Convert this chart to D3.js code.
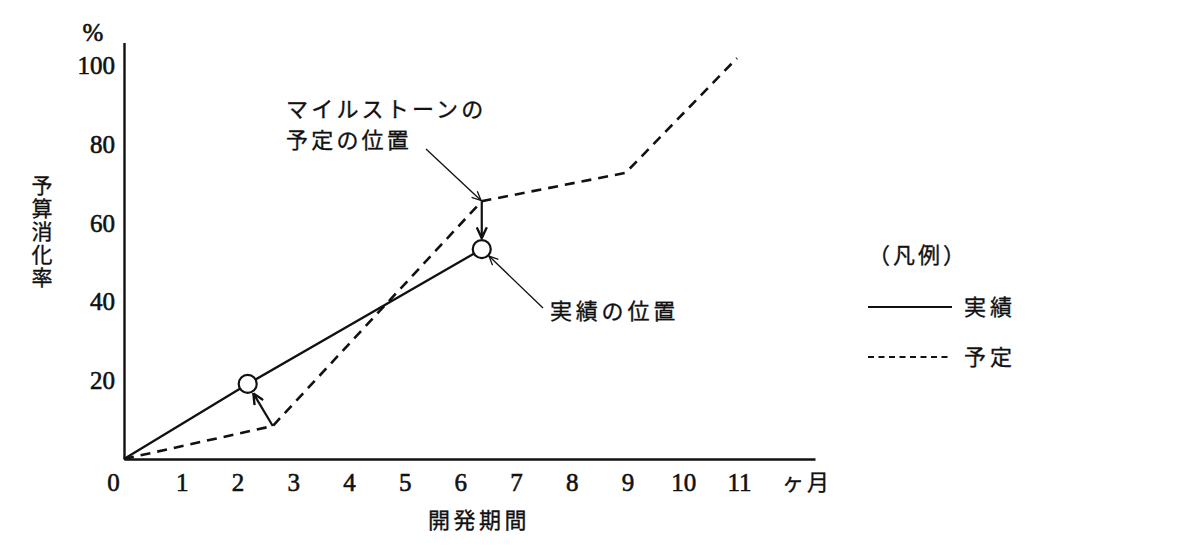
<!DOCTYPE html>
<html>
<head>
<meta charset="utf-8">
<script src="https://cdn.jsdelivr.net/npm/d3@7"></script>
<style>
  body { margin: 0; background: #fff; }
</style>
</head>
<body>
<svg id="drawing_region"></svg>
<script>
// tick labels
const month_ticks = [0, 1, 2, 3, 4, 5, 6, 7, 8, 9, 10, 11];
const rate_ticks = [20, 40, 60, 80, 100];

// 予定 (planned) series
const plan_months = [0, 2.67, 6.42, 9.0, 11.0];
const plan_rate = [0, 8.4, 65.6, 72.8, 102];

// 実績 (actual) series
const actual_months = [0, 2.22, 6.42];
const actual_rate = [0, 19.1, 53.4];

// milestone checks: index into both series
const milestone_idx = [1, 2];

const JP = '"Noto Sans CJK JP", "Noto Sans", sans-serif';
const NUM = '"Liberation Serif", "DejaVu Serif", serif';
const INK = '#111';

const svg = d3.select('#drawing_region')
    .attr('width', 1200)
    .attr('height', 560);

const xscale = d3.scaleLinear().domain([0, 12.4]).range([124, 815]);
const yscale = d3.scaleLinear().domain([0, 106]).range([459, 42.4]);

// arrow heads
const defs = svg.append('defs');
function addMarker(id, size, sw) {
    defs.append('marker')
        .attr('id', id)
        .attr('viewBox', '0 0 10 10')
        .attr('refX', 9.5)
        .attr('refY', 5)
        .attr('markerUnits', 'userSpaceOnUse')
        .attr('markerWidth', size)
        .attr('markerHeight', size)
        .attr('orient', 'auto')
        .append('path')
        .attr('d', 'M0.5,0.8 L9.5,5 L0.5,9.2')
        .attr('fill', 'none')
        .attr('stroke', INK)
        .attr('stroke-width', sw);
}
addMarker('head_bold', 12, 2.0);
addMarker('head_thin', 10, 1.3);

// japanese text helper, slightly heavier like the printed original
function jp(sel, size, spacing) {
    return sel.attr('font-family', JP)
        .attr('font-size', size)
        .attr('letter-spacing', spacing)
        .attr('fill', INK)
        .attr('stroke', INK)
        .attr('stroke-width', 0.35);
}

// axes (no tick marks, only lines and labels)
const xaxis = d3.axisBottom(xscale)
    .tickValues(month_ticks)
    .tickSize(0)
    .tickSizeOuter(0)
    .tickPadding(14)
    .tickFormat(d3.format('d'));

const yaxis = d3.axisLeft(yscale)
    .tickValues(rate_ticks)
    .tickSize(0)
    .tickSizeOuter(0)
    .tickPadding(9)
    .tickFormat(d3.format('d'));

const xaxis_group = svg.append('g')
    .attr('transform', `translate(0, ${yscale(0)})`)
    .call(xaxis);
const yaxis_group = svg.append('g')
    .attr('transform', `translate(${xscale(0)}, 0)`)
    .call(yaxis);

[xaxis_group, yaxis_group].forEach(g => {
    g.select('.domain').attr('stroke', INK).attr('stroke-width', 2.4);
    g.selectAll('text')
        .attr('font-family', NUM)
        .attr('font-size', 25)
        .attr('fill', INK)
        .attr('stroke', INK)
        .attr('stroke-width', 0.6);
});
xaxis_group.selectAll('.tick text').attr('dx', d => d === 0 ? -11 : 2);

// unit labels
svg.append('text')
    .attr('x', 93).attr('y', 41)
    .attr('text-anchor', 'middle')
    .attr('font-family', NUM).attr('font-size', 25)
    .attr('fill', INK)
    .attr('stroke', INK)
    .attr('stroke-width', 0.6)
    .text('%');

jp(svg.append('text'), 22, 3)
    .attr('x', 782).attr('y', 490)
    .text('ヶ月');

// axis titles
jp(svg.append('text'), 22, 3.5)
    .attr('x', 428).attr('y', 528)
    .text('開発期間');

jp(svg.append('text'), 21, 2)
    .attr('x', 42).attr('y', 175)
    .attr('writing-mode', 'vertical-rl')
    .attr('text-orientation', 'upright')
    .text('予算消化率');

// series lines
const line = d3.line()
    .x(d => xscale(d[0]))
    .y(d => yscale(d[1]));

const plan = plan_months.map((m, i) => [m, plan_rate[i]]);
const actual = actual_months.map((m, i) => [m, actual_rate[i]]);

svg.append('path')
    .datum(plan)
    .attr('d', line)
    .attr('fill', 'none')
    .attr('stroke', INK)
    .attr('stroke-width', 2.6)
    .attr('stroke-dasharray', '10,7');

svg.append('path')
    .datum(actual)
    .attr('d', line)
    .attr('fill', 'none')
    .attr('stroke', INK)
    .attr('stroke-width', 2.3);

const R = 9;

// milestone arrows: planned point -> actual circle
milestone_idx.forEach(i => {
    const x1 = xscale(plan[i][0]), y1 = yscale(plan[i][1]);
    const x2 = xscale(actual[i][0]), y2 = yscale(actual[i][1]);
    const len = Math.hypot(x2 - x1, y2 - y1);
    const ux = (x2 - x1) / len, uy = (y2 - y1) / len;
    svg.append('line')
        .attr('x1', x1).attr('y1', y1)
        .attr('x2', x2 - ux * (R + 2)).attr('y2', y2 - uy * (R + 2))
        .attr('stroke', INK)
        .attr('stroke-width', 2.2)
        .attr('marker-end', 'url(#head_bold)');
});

svg.selectAll('circle.actual')
    .data(milestone_idx)
    .enter()
    .append('circle')
    .attr('class', 'actual')
    .attr('cx', i => xscale(actual[i][0]))
    .attr('cy', i => yscale(actual[i][1]))
    .attr('r', R)
    .attr('fill', '#fff')
    .attr('stroke', INK)
    .attr('stroke-width', 2.2);

// annotations
const note1 = jp(svg.append('text'), 22, 3.2);
note1.append('tspan').attr('x', 286).attr('y', 117).text('マイルストーンの');
note1.append('tspan').attr('x', 286).attr('y', 148).text('予定の位置');

function pointer(fx, fy, tx, ty, gap) {
    const len = Math.hypot(tx - fx, ty - fy);
    const ux = (tx - fx) / len, uy = (ty - fy) / len;
    svg.append('line')
        .attr('x1', fx).attr('y1', fy)
        .attr('x2', tx - ux * gap).attr('y2', ty - uy * gap)
        .attr('stroke', INK)
        .attr('stroke-width', 1.3)
        .attr('marker-end', 'url(#head_thin)');
}
pointer(426, 149, xscale(plan[2][0]), yscale(plan[2][1]), 1);

jp(svg.append('text'), 22, 3.8)
    .attr('x', 550).attr('y', 319)
    .text('実績の位置');
pointer(543, 308, xscale(actual[2][0]), yscale(actual[2][1]), R + 1);

// legend
const legend = svg.append('g');
jp(legend.append('text'), 22, 3)
    .attr('x', 868).attr('y', 263)
    .text('（凡例）');

const legend_items = [
    { label: '実績', dash: null, y: 307 },
    { label: '予定', dash: '6,4.5', y: 357 }
];
legend_items.forEach(d => {
    legend.append('line')
        .attr('x1', 868).attr('x2', 952)
        .attr('y1', d.y).attr('y2', d.y)
        .attr('stroke', INK)
        .attr('stroke-width', 2.2)
        .attr('stroke-dasharray', d.dash);
    jp(legend.append('text'), 22, 4)
        .attr('x', 964).attr('y', d.y + 8)
        .text(d.label);
});
</script>
</body>
</html>
